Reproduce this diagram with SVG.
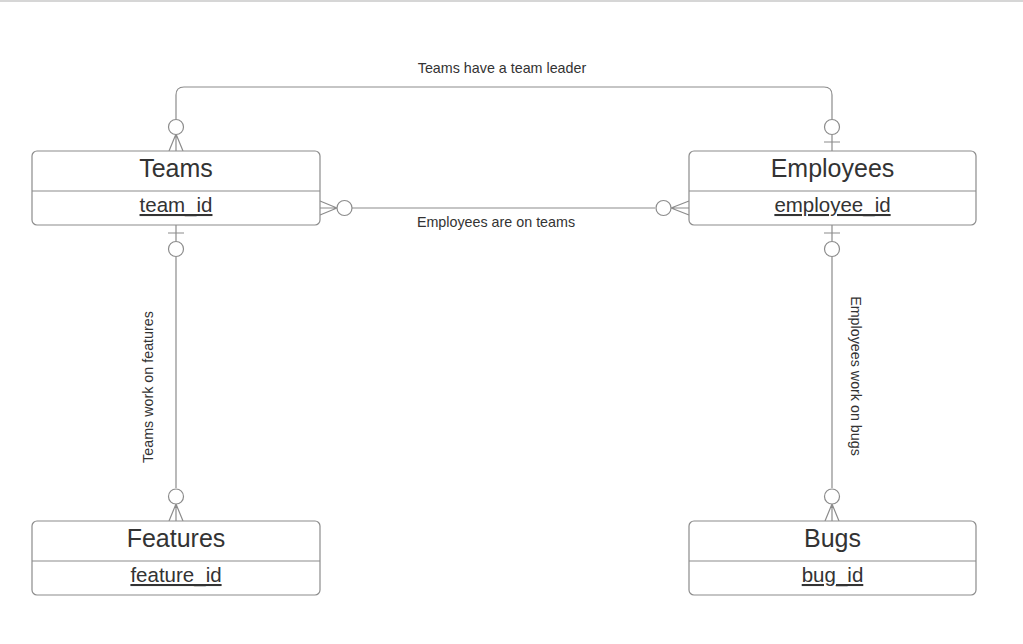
<svg xmlns="http://www.w3.org/2000/svg" width="1023" height="644" viewBox="0 0 1023 644">
<style>
.box{fill:#fff;stroke:#8c8c8c;stroke-width:1.2}
.div{stroke:#8c8c8c;stroke-width:1.2}
.ln{fill:none;stroke:#8c8c8c;stroke-width:1.2}
.ring{fill:#fff;stroke:#8c8c8c;stroke-width:1.2}
.title{font-family:"Liberation Sans",Arial,sans-serif;font-size:25px;fill:#333;text-anchor:middle}
.key{font-family:"Liberation Sans",Arial,sans-serif;font-size:20.5px;fill:#333;text-anchor:middle;text-decoration:underline}
.lbl{font-family:"Liberation Sans",Arial,sans-serif;font-size:14.3px;fill:#333;text-anchor:middle}
</style>
<rect x="0" y="0" width="1023" height="644" fill="#fff"/>
<rect x="0" y="0" width="1023" height="2" fill="#d6d6d6"/>

<g id="connectors">
  <!-- Teams have a team leader -->
  <g id="c-leader">
    <path class="ln" d="M176,119 V95 Q176,87 184,87 H824 Q832,87 832,95 V119"/>
    <path class="ln" d="M176,134 V151 M176,134 L169,151 M176,134 L183,151"/>
    <circle class="ring" cx="176" cy="127" r="7.5"/>
    <path class="ln" d="M832,135 V151 M824,142 H840"/>
    <circle class="ring" cx="832" cy="127" r="7.5"/>
    <text class="lbl" x="502" y="73">Teams have a team leader</text>
  </g>
  <!-- Employees are on teams -->
  <g id="c-onteams">
    <path class="ln" d="M352,208 H655"/>
    <path class="ln" d="M337,208 H320 M337,208 L320,201 M337,208 L320,215"/>
    <circle class="ring" cx="344.5" cy="208" r="7.5"/>
    <path class="ln" d="M671,208 H689 M671,208 L689,201 M671,208 L689,215"/>
    <circle class="ring" cx="663.5" cy="208" r="7.5"/>
    <text class="lbl" x="496" y="227">Employees are on teams</text>
  </g>
  <!-- Teams work on features -->
  <g id="c-features">
    <path class="ln" d="M176,225 V241 M168,233 H184 M176,257 V488"/>
    <circle class="ring" cx="176" cy="249" r="7.5"/>
    <path class="ln" d="M176,504 V521 M176,504 L169,521 M176,504 L183,521"/>
    <circle class="ring" cx="176" cy="496.5" r="7.5"/>
    <text class="lbl" transform="translate(153,387) rotate(-90)">Teams work on features</text>
  </g>
  <!-- Employees work on bugs -->
  <g id="c-bugs">
    <path class="ln" d="M832,225 V241 M824,233 H840 M832,257 V488"/>
    <circle class="ring" cx="832" cy="249" r="7.5"/>
    <path class="ln" d="M832,504 V521 M832,504 L825,521 M832,504 L839,521"/>
    <circle class="ring" cx="832" cy="496.5" r="7.5"/>
    <text class="lbl" transform="translate(851,376) rotate(90)">Employees work on bugs</text>
  </g>
</g>

<g id="teams">
  <rect class="box" x="32" y="151" width="288" height="74" rx="5"/>
  <line class="div" x1="32" y1="191" x2="320" y2="191"/>
  <text class="title" x="176" y="177">Teams</text>
  <text class="key" x="176" y="212">team_id</text>
</g>
<g id="employees">
  <rect class="box" x="689" y="151" width="287" height="74" rx="5"/>
  <line class="div" x1="689" y1="191" x2="976" y2="191"/>
  <text class="title" x="832.5" y="177">Employees</text>
  <text class="key" x="832.5" y="212">employee_id</text>
</g>
<g id="features">
  <rect class="box" x="32" y="521" width="288" height="74" rx="5"/>
  <line class="div" x1="32" y1="561" x2="320" y2="561"/>
  <text class="title" x="176" y="547">Features</text>
  <text class="key" x="176" y="582">feature_id</text>
</g>
<g id="bugs">
  <rect class="box" x="689" y="521" width="287" height="74" rx="5"/>
  <line class="div" x1="689" y1="561" x2="976" y2="561"/>
  <text class="title" x="832.5" y="547">Bugs</text>
  <text class="key" x="832.5" y="582">bug_id</text>
</g>
</svg>
